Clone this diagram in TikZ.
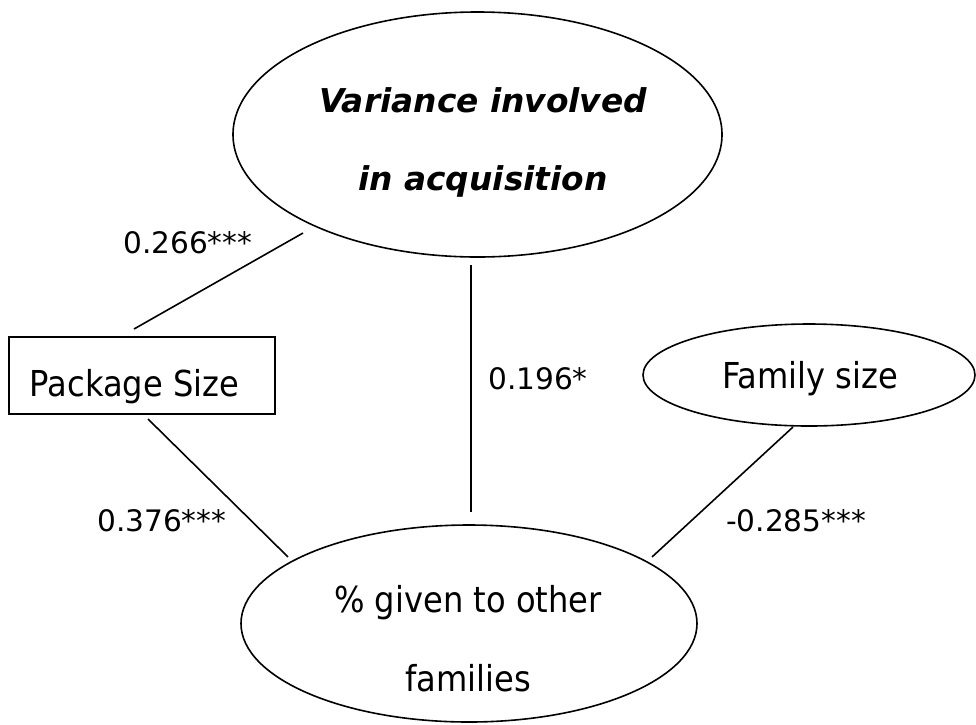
\documentclass[tikz,border=0pt]{standalone}
\usepackage{fontspec}
\setmainfont{DejaVu Sans}
\newfontfamily\nodefont[FakeStretch=0.9]{DejaVu Sans}
\usetikzlibrary{shapes.geometric}
\tikzset{
  conn/.style={draw, line width=1.6pt},
  shapeline/.style={draw, line width=1.6pt, inner sep=0pt, outer sep=0pt},
  ellnode/.style={shapeline, ellipse},
  boxnode/.style={shapeline, rectangle},
  coef/.style={anchor=base west, inner sep=0pt, font=\fontsize{29.6}{35}\selectfont},
  nodetext/.style={font=\nodefont\fontsize{35.7}{79}\selectfont, align=center, inner sep=0pt},
  vartext/.style={font=\bfseries\itshape\fontsize{32.8}{78}\selectfont, align=center, inner sep=0pt}
}
\begin{document}
\begin{tikzpicture}[x=1pt,y=-1pt]
\useasboundingbox (0,0) rectangle (976,724);

\node[ellnode, minimum width=489pt, minimum height=245pt,
  label={[name=vartxt, vartext, xshift=5.5pt, yshift=-8pt]center:Variance involved\\in acquisition}]
  (var) at (477.5,134.5) {};

\node[ellnode, minimum width=456pt, minimum height=197pt,
  label={[name=pcttxt, nodetext, xshift=-1pt, yshift=-15.5pt]center:\%{} given to other\\families}]
  (pct) at (469,623.5) {};

\node[boxnode, minimum width=266pt, minimum height=77pt,
  label={[name=pkgtxt, nodetext, xshift=-7.5pt, yshift=-11pt]center:Package Size}]
  (pkg) at (142,375.5) {};

\node[ellnode, minimum width=332pt, minimum height=102pt,
  label={[name=famtxt, nodetext, xshift=1pt, yshift=-3.6pt]center:Family size}]
  (fam) at (809,375) {};

\draw[conn] ([shift={(-8,-8)}]pkg.north) -- ([shift={(-1.6,11.9)}]var.south west);
\draw[conn] ([shift={(-6.5,8)}]var.south) -- ([shift={(2,-13)}]pct.north);
\draw[conn] ([shift={(6,5)}]pkg.south) -- ([shift={(-19.8,3.1)}]pct.north west);
\draw[conn] ([shift={(-16,1)}]fam.south) -- ([shift={(21.8,3.1)}]pct.north east);

\node[coef] (c1) at (123,253) {0.266***};
\node[coef] (c2) at (488,389) {0.196*};
\node[coef] (c3) at (97,531) {0.376***};
\node[coef] (c4) at (726,531) {-0.285***};
\end{tikzpicture}
\end{document}
